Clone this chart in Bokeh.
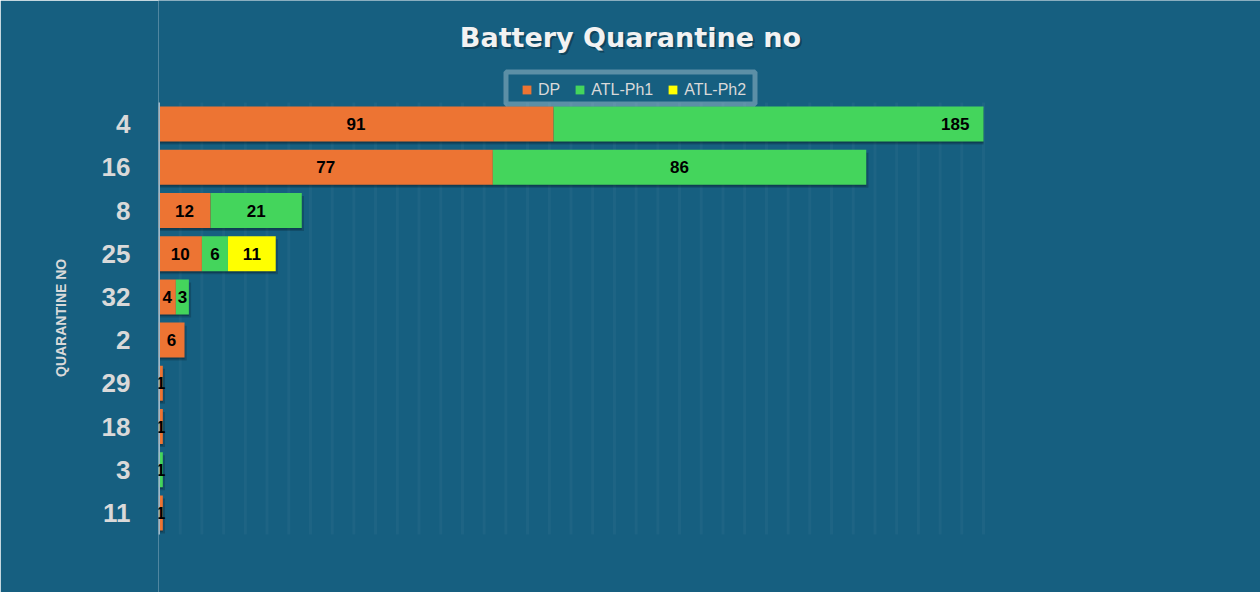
from bokeh.plotting import figure
from bokeh.models import (ColumnDataSource, Range1d, FixedTicker,
                          Legend, LegendItem, Label, BoxAnnotation)
from bokeh.core.properties import value
from bokeh.embed import file_html
from bokeh.resources import INLINE

# ---- data ----
categories = ["4", "16", "8", "25", "32", "2", "29", "18", "3", "11"]
dp_values = [91, 77, 12, 10, 4, 6, 1, 1, 0, 1]
ph1_values = [185, 86, 21, 6, 3, 0, 0, 0, 1, 0]
ph2_values = [0, 0, 0, 11, 0, 0, 0, 0, 0, 0]
series_names = ["DP", "ATL-Ph1", "ATL-Ph2"]
series_colors = ["#ED7433", "#44D55C", "#FFFF00"]
x_max = 190
grid_step = 5

BG = "#165F80"
TXT = "#D9D9D9"
W, H = 1260, 592
LEFT, RIGHT_PLOT, TOP_PLOT, BOTTOM_PLOT = 158, 983, 102, 534   # plot-area edges (px)

n = len(categories)
ypos = [n - 1 - i for i in range(n)]          # first category on top
totals = [a + b + c for a, b, c in zip(dp_values, ph1_values, ph2_values)]
src = ColumnDataSource(dict(y=ypos, total=[min(t, x_max) for t in totals],
                            ys1=[v - 0.07 for v in ypos], ys2=[v - 0.04 for v in ypos],
                            shadow_r=[min(t + 0.5, x_max) for t in totals]))

# ranges: the frame covers the whole canvas right of the axis
px_x = (RIGHT_PLOT - LEFT) / x_max
px_y = (BOTTOM_PLOT - TOP_PLOT) / n
x_end = x_max + (W - RIGHT_PLOT) / px_x
y_start = -0.5 - (H - BOTTOM_PLOT) / px_y
y_end = n - 0.5 + TOP_PLOT / px_y

p = figure(width=W, height=H,
           x_range=Range1d(0, x_end), y_range=Range1d(y_start, y_end),
           output_backend="svg", toolbar_location=None,
           min_border_left=LEFT, min_border_right=0,
           min_border_top=0, min_border_bottom=0,
           background_fill_color=BG, border_fill_color=BG,
           outline_line_color=None)

p.xaxis.visible = False
p.xgrid.visible = False
p.ygrid.visible = False

# vertical grid lines inside the plot area
gx = list(range(grid_step, x_max + 1, grid_step))
p.segment(x0=gx, x1=gx, y0=[-0.5] * len(gx), y1=[n - 0.5] * len(gx),
          line_color="#FFFFFF", line_alpha=0.035, line_width=3)

# shadows
p.hbar(y="ys1", left=0.3, right="shadow_r", height=0.81,
       source=src, fill_color="#000000", fill_alpha=0.18, line_color=None)
p.hbar(y="ys2", left=0.2, right="total", height=0.81,
       source=src, fill_color="#000000", fill_alpha=0.2, line_color=None)

# stacked bars (clipped at the plot-area edge, like the original)
clip_src = ColumnDataSource(dict(y=ypos,
                                 dp=[min(v, x_max) for v in dp_values],
                                 ph1=[max(0, min(a + b, x_max) - min(a, x_max)) for a, b in zip(dp_values, ph1_values)],
                                 ph2=[max(0, min(a + b + c, x_max) - min(a + b, x_max))
                                      for a, b, c in zip(dp_values, ph1_values, ph2_values)]))
renderers = p.hbar_stack(["dp", "ph1", "ph2"], y="y", height=0.81,
                         color=series_colors, source=clip_src, line_color=None)

# y axis line (only along the category band)
p.segment(x0=[0], x1=[0], y0=[-0.5], y1=[n - 0.5], line_color="#9DB9CA", line_width=3)

# data labels
lx, ly, lt = [], [], []
for i in range(n):
    left = 0
    for v in (dp_values[i], ph1_values[i], ph2_values[i]):
        if v > 0:
            lx.append(left + v / 2)
            ly.append(ypos[i])
            lt.append(str(v))
        left += v
lab_src = ColumnDataSource(dict(x=lx, y=ly, t=lt))
p.text(x="x", y="y", text="t", source=lab_src, text_align="center", text_baseline="middle",
       text_font=value("Liberation Sans"), text_font_style="bold", text_font_size="17px",
       text_color="#000000")

# y axis
ax = p.yaxis[0]
ax.ticker = FixedTicker(ticks=ypos)
ax.major_label_overrides = {y: c for y, c in zip(ypos, categories)}
ax.bounds = (-0.5, n - 0.5)
ax.major_tick_line_color = None
ax.minor_tick_line_color = None
ax.axis_line_color = None
ax.major_label_text_font = "Liberation Sans"
ax.major_label_text_font_size = "26px"
ax.major_label_text_font_style = "bold"
ax.major_label_text_color = TXT
ax.major_label_standoff = 22
# trailing no-break spaces centre the visible label on the plot area
ax.axis_label = "QUARANTINE NO" + "\u00a0" * 11
ax.axis_label_text_font = "Liberation Sans"
ax.axis_label_text_font_size = "14px"
ax.axis_label_text_font_style = "bold"
ax.axis_label_text_color = TXT
ax.axis_label_standoff = 30

# legend frame
p.add_layout(BoxAnnotation(left=505.5 - LEFT, right=754.5 - LEFT, bottom=H - 103.5, top=H - 71.5,
                           left_units="screen", right_units="screen",
                           bottom_units="screen", top_units="screen",
                           fill_alpha=0.0, line_color="#FFFFFF", line_alpha=0.3, line_width=5))
legend = Legend(items=[LegendItem(label=s, renderers=[r]) for s, r in zip(series_names, renderers)],
                orientation="horizontal", location=(521 - LEFT, H - 98.5),
                background_fill_alpha=0.0, border_line_color=None,
                label_text_color=TXT, label_text_font="Liberation Sans", label_text_font_size="16px",
                glyph_width=11, glyph_height=11, label_standoff=6, spacing=14, padding=4, margin=0)
p.add_layout(legend)

# title (with soft shadow)
tx, ty = W / 2 - LEFT, H - 37
p.add_layout(Label(x=tx + 2, y=ty - 2, x_units="screen", y_units="screen", text="Battery Quarantine no",
                   text_align="center", text_baseline="middle", text_font="DejaVu Sans",
                   text_font_size="27px", text_font_style="bold", text_color="#000000",
                   text_alpha=0.3))
p.add_layout(Label(x=tx, y=ty, x_units="screen", y_units="screen", text="Battery Quarantine no",
                   text_align="center", text_baseline="middle", text_font="DejaVu Sans",
                   text_font_size="27px", text_font_style="bold", text_color="#F2F2F2"))

html = file_html(p, INLINE)
html = html.replace("<body>", '<body style="margin:0;background:%s">' % BG, 1)
open("out.html", "w").write(html)
